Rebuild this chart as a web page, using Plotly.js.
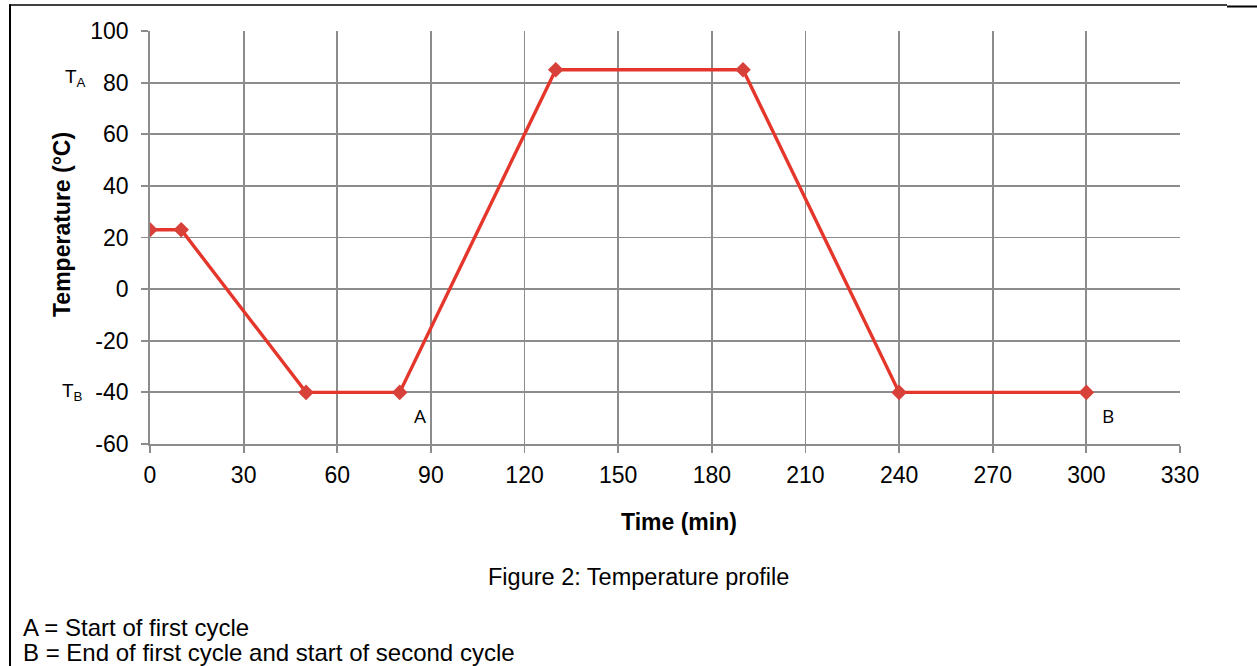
<!DOCTYPE html>
<html>
<head>
<meta charset="utf-8">
<script src="https://cdn.plot.ly/plotly-3.0.1.min.js"></script>
<style>html,body{margin:0;padding:0;background:#fff;}#chart{width:1257px;height:666px;}</style>
</head>
<body>
<div id="chart"></div>
<script>
const timeMin = [0, 10, 50, 80, 130, 190, 240, 300];
const tempC = [23, 23, -40, -40, 85, 85, -40, -40];
const xTicks = [0, 30, 60, 90, 120, 150, 180, 210, 240, 270, 300, 330];
const yTicks = [-60, -40, -20, 0, 20, 40, 60, 80, 100];
const xTitle = 'Time (min)';
const yTitle = 'Temperature (°C)';
const caption = 'Figure 2: Temperature profile';
const notes = ['A = Start of first cycle', 'B = End of first cycle and start of second cycle'];

const W = 1257, H = 666, ML = 150, MR = 77, MT = 31, MB = 222;
const PW = W - ML - MR, PH = H - MT - MB;
const px = x => (x - ML) / PW;
const py = y => (H - MB - y) / PH;
const FONT = 'Liberation Sans, Arial, sans-serif';

const trace = {
  x: timeMin, y: tempC, type: 'scatter', mode: 'lines+markers',
  line: {color: '#E5362B', width: 3.4},
  marker: {symbol: 'diamond', size: 12, color: '#D8403A'},
  hoverinfo: 'skip', showlegend: false
};

const axisCommon = {
  showgrid: true, gridcolor: '#8C8C8C', gridwidth: 1.8,
  showline: true, linecolor: '#8C8C8C', linewidth: 1.8,
  ticks: 'outside', ticklen: 7, tickcolor: '#8C8C8C', tickwidth: 1.8,
  zeroline: false, mirror: false,
  tickfont: {family: FONT, size: 23, color: '#000'}
};

const layout = {
  width: W, height: H,
  margin: {l: ML, r: MR, t: MT, b: MB},
  paper_bgcolor: '#fff', plot_bgcolor: '#fff',
  xaxis: Object.assign({}, axisCommon, {
    range: [0, 330], tickvals: xTicks, ticktext: xTicks.map(String), ticklabelstandoff: 3
  }),
  yaxis: Object.assign({}, axisCommon, {
    range: [-60, 100], tickvals: yTicks, ticktext: yTicks.map(String), ticklabelstandoff: 8
  }),
  annotations: [
    {xref: 'paper', yref: 'paper', x: px(679), y: py(522), text: '<b>' + xTitle + '</b>', showarrow: false, xanchor: 'center', yanchor: 'middle',
     font: {family: FONT, size: 23, color: '#000'}},
    {xref: 'paper', yref: 'paper', x: px(62), y: py(225), text: '<b>' + yTitle + '</b>', showarrow: false, textangle: -90, xanchor: 'center', yanchor: 'middle',
     font: {family: FONT, size: 23, color: '#000'}},
    {xref: 'paper', yref: 'paper', x: px(420), y: py(416), text: 'A', showarrow: false, xanchor: 'center', yanchor: 'middle',
     font: {family: 'Open Sans, sans-serif', size: 19, color: '#000'}},
    {xref: 'paper', yref: 'paper', x: px(1108), y: py(416), text: 'B', showarrow: false, xanchor: 'center', yanchor: 'middle',
     font: {family: 'Open Sans, sans-serif', size: 19, color: '#000'}},
    {xref: 'paper', yref: 'paper', x: px(63), y: py(78), text: 'T<sub>A</sub>', showarrow: false, xanchor: 'left', yanchor: 'middle',
     font: {family: FONT, size: 19, color: '#000'}},
    {xref: 'paper', yref: 'paper', x: px(60), y: py(392), text: 'T<sub>B</sub>', showarrow: false, xanchor: 'left', yanchor: 'middle',
     font: {family: FONT, size: 19, color: '#000'}},
    {xref: 'paper', yref: 'paper', x: px(791), y: py(577), text: caption, showarrow: false, xanchor: 'right', yanchor: 'middle',
     font: {family: FONT, size: 23.5, color: '#000'}},
    {xref: 'paper', yref: 'paper', x: px(21), y: py(627), text: notes[0], showarrow: false, xanchor: 'left', yanchor: 'middle',
     font: {family: FONT, size: 24, color: '#000'}},
    {xref: 'paper', yref: 'paper', x: px(21), y: py(652), text: notes[1], showarrow: false, xanchor: 'left', yanchor: 'middle',
     font: {family: FONT, size: 24, color: '#000'}}
  ],
  shapes: [
    {type: 'line', xref: 'paper', yref: 'paper', x0: px(10), x1: px(10), y0: py(4.5), y1: py(667), line: {color: '#000', width: 2}},
    {type: 'line', xref: 'paper', yref: 'paper', x0: px(9), x1: px(1227), y0: py(5), y1: py(5), line: {color: '#000', width: 1.5}},
    {type: 'line', xref: 'paper', yref: 'paper', x0: px(1227), x1: px(1257), y0: py(6.5), y1: py(6.5), line: {color: '#000', width: 2}}
  ]
};

Plotly.newPlot('chart', [trace], layout, {staticPlot: true, displayModeBar: false});
</script>
</body>
</html>
